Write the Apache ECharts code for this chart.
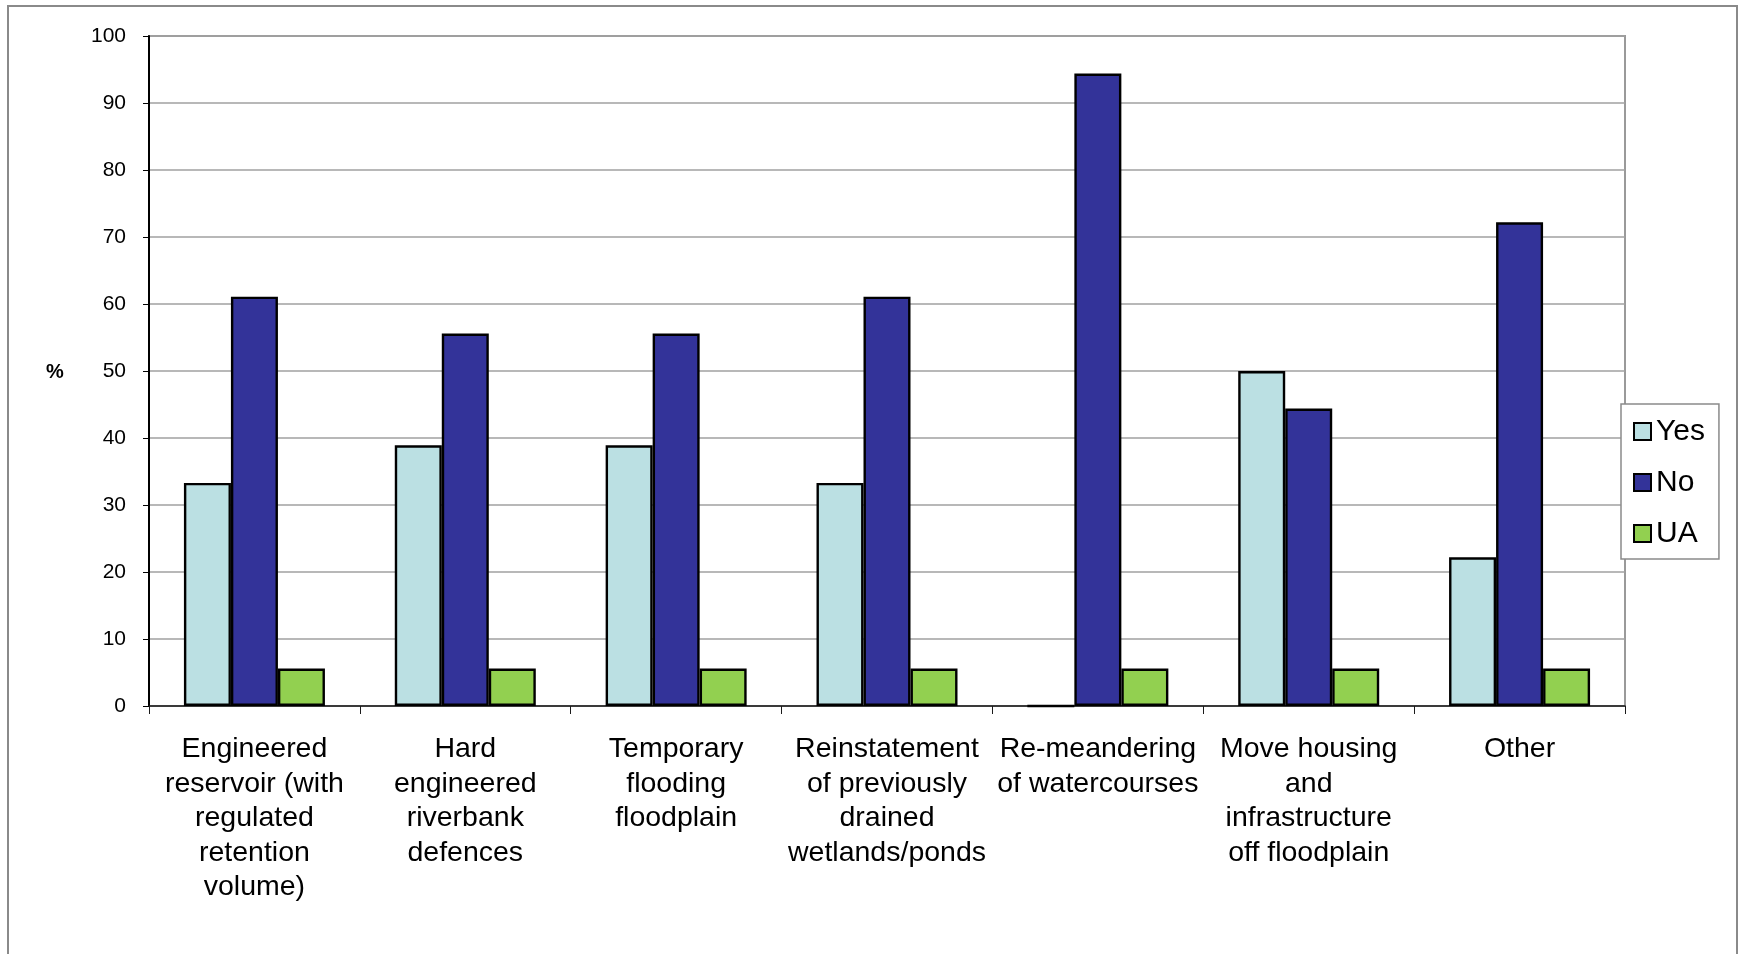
<!DOCTYPE html>
<html>
<head>
<meta charset="utf-8">
<title>Flood management measures</title>
<script src="https://cdn.jsdelivr.net/npm/echarts@6/dist/echarts.min.js"></script>
<style>
  html, body { margin: 0; padding: 0; background: #ffffff; }
  #chart { width: 1741px; height: 954px; }
</style>
</head>
<body>
<div id="chart"></div>
<script>
// Category labels (wrapped as they appear under the axis)
const categories = [
  'Engineered\nreservoir (with\nregulated\nretention\nvolume)',
  'Hard\nengineered\nriverbank\ndefences',
  'Temporary\nflooding\nfloodplain',
  'Reinstatement\nof previously\ndrained\nwetlands/ponds',
  'Re-meandering\nof watercourses',
  'Move housing\nand\ninfrastructure\noff floodplain',
  'Other'
];

// Percent of responses per measure
const yesValues = [33.3, 38.9, 38.9, 33.3, 0, 50.0, 22.2];
const noValues  = [61.1, 55.6, 55.6, 61.1, 94.4, 44.4, 72.2];
const uaValues  = [5.6, 5.6, 5.6, 5.6, 5.6, 5.6, 5.6];

const seriesNames = ['Yes', 'No', 'UA'];
const seriesColors = ['#BBE0E3', '#333399', '#92D050'];
const seriesData = [yesValues, noValues, uaValues];

const FONT = '"Liberation Sans", Arial, sans-serif';

const chart = echarts.init(document.getElementById('chart'), null, { renderer: 'canvas' });

chart.setOption({
  backgroundColor: '#ffffff',
  animation: false,
  textStyle: { fontFamily: FONT, color: '#000' },
  grid: {
    left: 149, right: 116, top: 36, bottom: 248,
    show: true, borderColor: '#9a9a9a', borderWidth: 2, backgroundColor: 'transparent'
  },
  legend: {
    orient: 'vertical',
    left: 1621, top: 404,
    padding: [12, 14, 10, 12],
    itemGap: 20,
    itemWidth: 17, itemHeight: 17,
    backgroundColor: '#ffffff',
    borderColor: '#8a8a8a', borderWidth: 1.5,
    textStyle: { fontFamily: FONT, fontSize: 30, color: '#000', lineHeight: 31 },
    data: seriesNames.map(n => ({ name: n, icon: 'rect' }))
  },
  xAxis: {
    type: 'category',
    data: categories,
    axisLine: { show: true, lineStyle: { color: '#1a1a1a', width: 1.5 } },
    axisTick: { show: true, interval: 0, length: 8, lineStyle: { color: '#1a1a1a', width: 1 } },
    axisLabel: {
      interval: 0, margin: 26,
      fontFamily: FONT, fontSize: 28.5, color: '#000', lineHeight: 34.5, align: 'center'
    },
    splitLine: { show: false }
  },
  yAxis: {
    type: 'value',
    min: 0, max: 100, interval: 10,
    axisLine: { show: true, lineStyle: { color: '#000', width: 2 } },
    axisTick: { show: true, length: 6, lineStyle: { color: '#000', width: 1 } },
    axisLabel: { margin: 23, fontFamily: FONT, fontSize: 21, color: '#000' },
    splitLine: { show: true, lineStyle: { color: '#a0a0a0', width: 1.5 } }
  },
  series: seriesNames.map((name, i) => ({
    name: name,
    type: 'bar',
    data: seriesData[i],
    barWidth: 47,
    barGap: '0%',
    itemStyle: { color: seriesColors[i], borderColor: '#000', borderWidth: 2.4 }
  })),
  graphic: [
    {
      type: 'rect',
      silent: true,
      shape: { x: 8, y: 6, width: 1729, height: 1000 },
      style: { fill: 'none', stroke: '#8a8a8a', lineWidth: 2 },
      z: 100
    },
    {
      type: 'text',
      left: 46, top: 362,
      style: { text: '%', font: 'bold 20px ' + FONT, fill: '#000' }
    }
  ]
});
</script>
</body>
</html>
